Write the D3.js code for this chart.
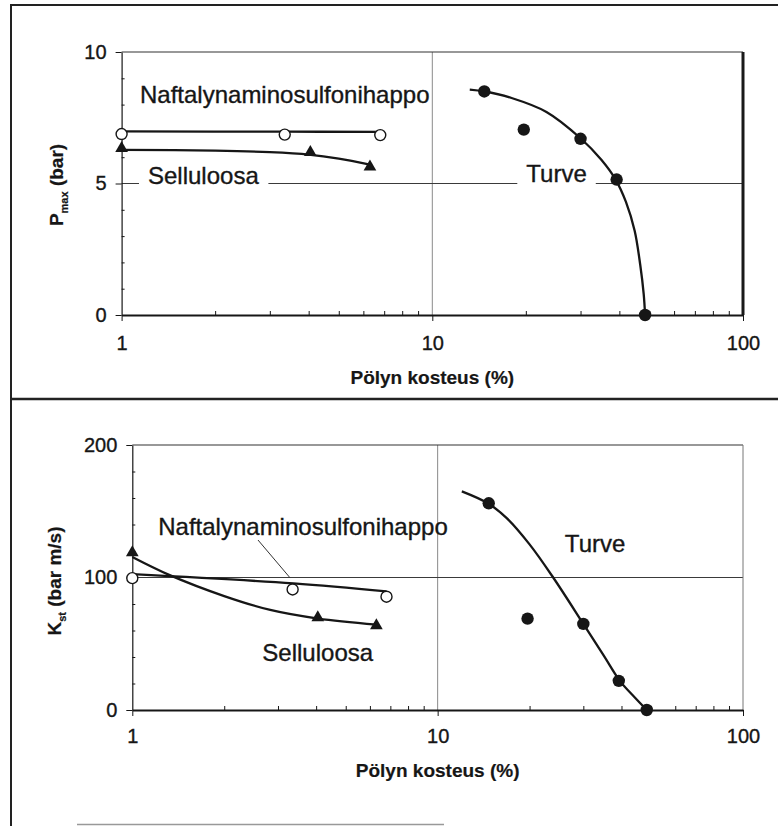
<!DOCTYPE html>
<html>
<head>
<meta charset="utf-8">
<script src="https://cdnjs.cloudflare.com/ajax/libs/d3/7.8.5/d3.min.js"></script>
<style>
  body { margin: 0; background: #fff; }
  text { font-family: "Liberation Sans", Arial, sans-serif; fill: #161616; stroke: #161616; stroke-width: 0.35px; }
</style>
</head>
<body>
<script>
// dust moisture (%) of the samples, same in both panels
const naftaMoist = [1, 3.35, 6.8];
const selluMoist = [1, 4.05, 6.3];
const turveMoist = [14.7, 19.7, 30, 39.2, 48.4];

// Pmax (bar)
const naftaPmax = [6.88, 6.86, 6.84];
const selluPmax = [6.3, 6.15, 5.6];
const turvePmax = [8.5, 7.05, 6.7, 5.15, 0];

// Kst (bar m/s)
const naftaKst = [99.5, 91, 85.5];
const selluKst = [118, 69, 63];
const turveKst = [156, 69, 65, 22, 0];

// hand drawn trend curves, [moisture, value]
const naftaPmaxFit = [[1, 6.98], [3.4, 6.97], [6.8, 6.96]];
const selluPmaxFit = [[1, 6.28], [2, 6.25], [3, 6.19], [4, 6.1], [5, 5.95], [6.3, 5.72]];
const turvePmaxFit = [[13.2, 8.57], [14.7, 8.5], [18, 8.25], [23.3, 7.72], [30, 6.72], [35, 5.9], [38.9, 5.15], [42, 4.3], [44.8, 3.2], [46.7, 1.9], [47.9, 0.8], [48.4, 0]];
const naftaKstFit = [[1, 102.5], [3.37, 95.5], [6.8, 89.5]];
const selluKstFit = [[1, 115.5], [1.32, 102], [2, 86], [2.83, 75.5], [4.06, 69], [6.3, 64.5]];
const turveKstFit = [[12, 165], [14.6, 156], [16.8, 145], [20, 125], [23.9, 100], [30, 65], [35, 41], [39.5, 22], [44, 10], [48.4, 0]];

// axis ticks
const xTicks = [1, 10, 100];
const xMinor = [2, 3, 4, 5, 6, 7, 8, 9, 20, 30, 40, 50, 60, 70, 80, 90];
const pmaxTicks = [0, 5, 10];
const pmaxMinor = [1, 2, 3, 4, 6, 7, 8, 9];
const kstTicks = [0, 100, 200];
const kstMinor = [20, 40, 60, 80, 120, 140, 160, 180];

const ink = "#161616";
const svg = d3.select("body").append("svg").attr("width", 778).attr("height", 826);

// scanned page frame
svg.append("line").attr("x1", 10).attr("x2", 778).attr("y1", 5).attr("y2", 5).attr("stroke", "#222").attr("stroke-width", 2);
svg.append("line").attr("x1", 11).attr("x2", 11).attr("y1", 4).attr("y2", 826).attr("stroke", "#222").attr("stroke-width", 2);
svg.append("line").attr("x1", 10).attr("x2", 778).attr("y1", 399).attr("y2", 399).attr("stroke", "#222").attr("stroke-width", 2.5);
svg.append("line").attr("x1", 77).attr("x2", 444).attr("y1", 824.5).attr("y2", 824.5).attr("stroke", "#999").attr("stroke-width", 1.5);

function drawPanel(p) {
  let x = d3.scaleLog().domain([1, 100]).range([p.left, p.right]);
  let y = d3.scaleLinear().domain([p.yTicks[0], p.yTicks[2]]).range([p.bottom, p.top]);
  let g = svg.append("g");

  // grid
  g.append("line").attr("x1", x(10)).attr("x2", x(10)).attr("y1", y(p.yTicks[2])).attr("y2", y(p.yTicks[0]))
    .attr("stroke", "#8a8a8a").attr("stroke-width", 1);
  g.append("line").attr("x1", x(1)).attr("x2", x(100)).attr("y1", y(p.yTicks[1])).attr("y2", y(p.yTicks[1]))
    .attr("stroke", "#3a3a3a").attr("stroke-width", 1);

  // frame top + right
  g.append("line").attr("x1", x(1)).attr("x2", x(100)).attr("y1", y(p.yTicks[2])).attr("y2", y(p.yTicks[2]))
    .attr("stroke", "#333").attr("stroke-width", 1.2);
  g.append("line").attr("x1", x(100)).attr("x2", x(100)).attr("y1", y(p.yTicks[2])).attr("y2", y(p.yTicks[0]))
    .attr("stroke", p.rightColor).attr("stroke-width", p.rightWidth);

  // axes
  let xAxis = g.append("g").attr("transform", `translate(0,${p.bottom})`)
    .call(d3.axisBottom(x).tickValues(xTicks).tickFormat(d3.format("d")).tickSize(6).tickSizeOuter(0).tickPadding(p.xPad));
  xAxis.select(".domain").attr("stroke", ink).attr("stroke-width", 2);
  g.append("g").attr("transform", `translate(0,${p.bottom})`)
    .call(d3.axisTop(x).tickValues(xMinor).tickFormat("").tickSize(4))
    .select(".domain").remove();

  let yAxis = g.append("g").attr("transform", `translate(${p.left},0)`)
    .call(d3.axisLeft(y).tickValues(p.yTicks).tickSize(6).tickSizeOuter(0).tickPadding(9));
  yAxis.select(".domain").attr("stroke", ink).attr("stroke-width", 1.2);
  g.append("g").attr("transform", `translate(${p.left},0)`)
    .call(d3.axisRight(y).tickValues(p.yMinor).tickFormat("").tickSize(3))
    .select(".domain").remove();

  g.selectAll(".tick line").attr("stroke", ink);
  g.selectAll(".tick text").style("font-size", "20px").style("fill", ink);

  // axis titles
  g.append("text").attr("x", (p.left + p.right) / 2).attr("y", p.bottom + p.titleGap)
    .attr("text-anchor", "middle").style("font-size", "19px").style("font-weight", "bold").style("stroke-width", "0.2px")
    .text("Pölyn kosteus (%)");
  let yt = g.append("text").attr("transform", `translate(${p.yTitleX},${(p.top + p.bottom) / 2 + p.yTitleShift}) rotate(-90)`)
    .attr("text-anchor", "middle").style("font-size", "19px").style("font-weight", "bold").style("stroke-width", "0.2px");
  yt.append("tspan").text(p.yName[0]);
  yt.append("tspan").attr("dy", 5).style("font-size", "11px").text(p.yName[1]);
  yt.append("tspan").attr("dy", -5).text(p.yName[2]);

  // series labels (some on white so they cut the grid line)
  p.labels.forEach(l => {
    let t = g.append("text").attr("x", x(l.x)).attr("y", y(l.y)).style("font-size", "24px").text(l.text);
    if (l.knockout) {
      let b = t.node().getBBox();
      g.insert("rect", () => t.node()).attr("x", b.x - 9).attr("y", b.y + 2).attr("width", b.width + 18).attr("height", b.height - 4).attr("fill", "#fff");
    }
  });
  if (p.leader) {
    g.append("line").attr("x1", x(p.leader[0][0])).attr("y1", y(p.leader[0][1]))
      .attr("x2", x(p.leader[1][0])).attr("y2", y(p.leader[1][1])).attr("stroke", "#333").attr("stroke-width", 1);
  }

  // trend curves
  let line = d3.line().x(d => x(d[0])).y(d => y(d[1])).curve(d3.curveCatmullRom.alpha(0.5));
  p.fits.forEach(f => {
    g.append("path").attr("d", line(f)).attr("fill", "none").attr("stroke", ink).attr("stroke-width", 2.3);
  });

  // markers
  p.series.forEach(s => {
    let pts = s.xs.map((v, i) => [v, s.ys[i]]);
    if (s.shape === "triangle") {
      g.selectAll(null).data(pts).enter().append("path")
        .attr("d", d3.symbol().type(d3.symbolTriangle).size(70))
        .attr("transform", d => `translate(${x(d[0])},${y(d[1]) - 1})`)
        .attr("fill", ink);
    } else {
      g.selectAll(null).data(pts).enter().append("circle")
        .attr("cx", d => x(d[0])).attr("cy", d => y(d[1]))
        .attr("r", s.shape === "open" ? 5.5 : 6.2)
        .attr("fill", s.shape === "open" ? "#fff" : ink)
        .attr("stroke", ink).attr("stroke-width", s.shape === "open" ? 1.4 : 0);
    }
  });
}

drawPanel({
  left: 121.6, right: 743, top: 52, bottom: 315,
  yTicks: pmaxTicks, yMinor: pmaxMinor,
  rightColor: "#1a1a1a", rightWidth: 3,
  xPad: 15, titleGap: 69,
  yTitleX: 63, yTitleShift: 1.5, yName: ["P", "max", " (bar)"],
  labels: [
    { text: "Naftalynaminosulfonihappo", x: 1.146, y: 8.05 },
    { text: "Selluloosa", x: 1.216, y: 4.98, knockout: true },
    { text: "Turve", x: 20.07, y: 5.05, knockout: true }
  ],
  fits: [naftaPmaxFit, selluPmaxFit, turvePmaxFit],
  series: [
    { xs: naftaMoist, ys: naftaPmax, shape: "open" },
    { xs: selluMoist, ys: selluPmax, shape: "triangle" },
    { xs: turveMoist, ys: turvePmax, shape: "filled" }
  ]
});

drawPanel({
  left: 132.3, right: 743, top: 445, bottom: 710,
  yTicks: kstTicks, yMinor: kstMinor,
  rightColor: "#777", rightWidth: 1,
  xPad: 13, titleGap: 67,
  yTitleX: 61, yTitleShift: 3.5, yName: ["K", "st", " (bar m/s)"],
  labels: [
    { text: "Naftalynaminosulfonihappo", x: 1.216, y: 132 },
    { text: "Selluloosa", x: 2.666, y: 37 },
    { text: "Turve", x: 26.1, y: 119.5 }
  ],
  leader: [[2.58, 128.3], [3.29, 99.6]],
  fits: [naftaKstFit, selluKstFit, turveKstFit],
  series: [
    { xs: naftaMoist, ys: naftaKst, shape: "open" },
    { xs: selluMoist, ys: selluKst, shape: "triangle" },
    { xs: turveMoist, ys: turveKst, shape: "filled" }
  ]
});
</script>
</body>
</html>
